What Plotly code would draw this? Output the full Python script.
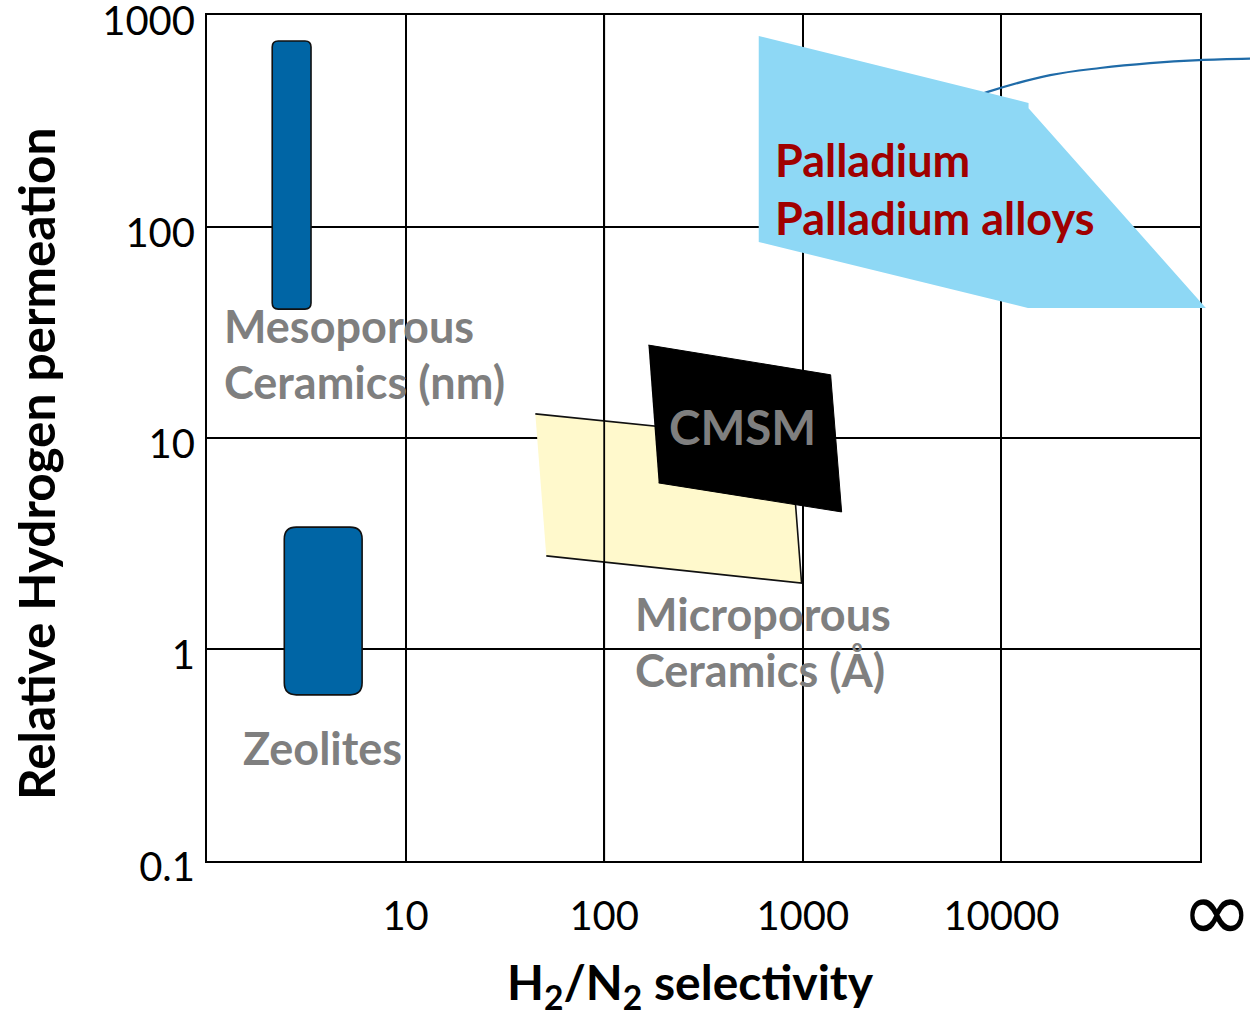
import plotly.graph_objects as go

# ---------------- axis ticks ----------------
X_TICK_VALS = [10, 100, 1000, 10000]
X_TICK_TEXT = ["10", "100", "1000", "10000"]
X_INF = 100000                      # position used for the "∞" column
Y_TICK_VALS = [0.1, 1, 10, 100, 1000]
Y_TICK_TEXT = ["0.1", "1", "10", "100", "1000"]

# ------- membrane regions: H2/N2 selectivity (x) vs relative H2 permeation (y) -------
meso_sel = [2.13, 3.34]
meso_perm = [40.7, 754]
zeo_sel = [2.45, 6.04]
zeo_perm = [0.61, 3.79]
micro_sel = [45.0, 868, 986, 51.1]
micro_perm = [13.0, 9.78, 2.06, 2.77]
cmsm_sel = [167, 1381, 1569, 188]
cmsm_perm = [27.5, 19.9, 4.47, 6.13]
pd_sel = [600, 13700, 13700, 107000, 13600, 600]
pd_perm = [796, 384, 363, 41.2, 41.2, 84.5]
link_sel = [6190, 8460, 17600, 31400, 56000, 98900, 178600]
link_perm = [388, 432, 520, 562, 593, 613, 623]

# ---------------- geometry / style ----------------
W, H = 1250, 1013
ML, MR, MT, MB = 207, 0, 15, 152
PLOT_W = W - ML - MR
PLOT_H = H - MT - MB
FRAME_W = 993                       # width of the framed chart area
X_SPAN = 5.0                        # decades 1 .. 1e5
X_DECADE_PX = FRAME_W / X_SPAN
Y_DECADE_PX = PLOT_H / 4.0
Y_PAD = 0.0004                      # keeps the edge tick labels inside the range

FONT = "Lato"
GRAY = "#7F7F7F"
DARKRED = "#A00000"
BLUE = "#0065A5"


def px_x(px):
    return (px - ML) / PLOT_W


def px_y(py):
    return (MT + PLOT_H - py) / PLOT_H


def rrect_path(xs, ys, r):
    fx = 10 ** (r / X_DECADE_PX)
    fy = 10 ** (r / Y_DECADE_PX)
    x0, x1 = xs
    y0, y1 = ys
    return (f"M{x0*fx},{y0} L{x1/fx},{y0} Q{x1},{y0} {x1},{y0*fy} "
            f"L{x1},{y1/fy} Q{x1},{y1} {x1/fx},{y1} L{x0*fx},{y1} "
            f"Q{x0},{y1} {x0},{y1/fy} L{x0},{y0*fy} Q{x0},{y0} {x0*fx},{y0} Z")


fig = go.Figure()

# main subplot (framed area)
fig.add_trace(go.Scatter(x=micro_sel, y=micro_perm, fill="toself", mode="lines",
                         fillcolor="#FFF9CC", line=dict(color="#111111", width=1.6),
                         hoverinfo="skip", showlegend=False))
fig.add_trace(go.Scatter(x=[X_TICK_VALS[1], X_TICK_VALS[1]], y=[Y_TICK_VALS[0], Y_TICK_VALS[-1]],
                         mode="lines", line=dict(color="black", width=1.8),
                         hoverinfo="skip", showlegend=False))
fig.add_trace(go.Scatter(x=cmsm_sel, y=cmsm_perm, fill="toself", mode="lines",
                         fillcolor="black", line=dict(color="black", width=1),
                         hoverinfo="skip", showlegend=False))

# overlay subplot extending to the right page edge
fig.add_trace(go.Scatter(x=link_sel, y=link_perm, mode="lines", line_shape="spline",
                         line=dict(color="#1F6BA8", width=2.2),
                         xaxis="x2", yaxis="y2", hoverinfo="skip", showlegend=False))
fig.add_trace(go.Scatter(x=pd_sel, y=pd_perm, fill="toself", mode="none",
                         fillcolor="#8ED8F5", xaxis="x2", yaxis="y2",
                         hoverinfo="skip", showlegend=False))

shapes = [
    dict(type="path", xref="x", yref="y", layer="above",
         path=rrect_path(meso_sel, meso_perm, 6),
         fillcolor=BLUE, line=dict(color="#111111", width=1.6)),
    dict(type="path", xref="x", yref="y", layer="above",
         path=rrect_path(zeo_sel, zeo_perm, 12),
         fillcolor=BLUE, line=dict(color="#111111", width=1.6)),
]

labels = [
    ("Palladium", 773, 160, DARKRED, 45),
    ("Palladium alloys", 773, 218, DARKRED, 45),
    ("Mesoporous", 222, 326, GRAY, 45),
    ("Ceramics (nm)", 222, 382, GRAY, 45),
    ("CMSM", 667, 426, GRAY, 47.5),
    ("Microporous", 633, 614, GRAY, 45),
    ("Ceramics (Å)", 633, 670, GRAY, 45),
    ("Zeolites", 241, 748, GRAY, 45),
]
annotations = []
for txt, x, y, col, sz in labels:
    annotations.append(dict(text=txt, x=px_x(x), y=px_y(y), xref="paper", yref="paper",
                            xanchor="left", yanchor="middle", showarrow=False,
                            font=dict(family=FONT, size=sz, color=col, weight="bold")))

annotations.append(dict(text="∞", x=px_x(1217), y=px_y(911), xref="paper", yref="paper",
                        xanchor="center", yanchor="middle", showarrow=False,
                        font=dict(family="DejaVu Sans", size=86, color="black")))
annotations.append(dict(text="Relative Hydrogen permeation", textangle=-90,
                        x=px_x(36), y=px_y(464), xref="paper", yref="paper",
                        xanchor="center", yanchor="middle", showarrow=False,
                        font=dict(family=FONT, size=49.5, color="black", weight="bold")))
annotations.append(dict(text="H<sub>2</sub>/N<sub>2</sub> selectivity",
                        x=px_x(690), y=px_y(985), xref="paper", yref="paper",
                        xanchor="center", yanchor="middle", showarrow=False,
                        font=dict(family=FONT, size=48, color="black", weight="bold")))

fig.update_layout(
    width=W, height=H,
    margin=dict(l=ML, r=MR, t=MT, b=MB, pad=0, autoexpand=False),
    paper_bgcolor="white", plot_bgcolor="rgba(0,0,0,0)",
    showlegend=False,
    xaxis=dict(type="log", range=[0, X_SPAN], domain=[0, FRAME_W / PLOT_W], anchor="y",
               tickvals=X_TICK_VALS, ticktext=X_TICK_TEXT, ticks="",
               tickfont=dict(family=FONT, size=40, color="black"),
               ticklabelstandoff=19, automargin=False,
               showgrid=True, gridcolor="black", gridwidth=1.8,
               showline=True, linecolor="black", linewidth=2, mirror=True,
               zeroline=False),
    yaxis=dict(type="log", range=[-1 - Y_PAD, 3 + Y_PAD], domain=[0, 1], anchor="x",
               tickvals=Y_TICK_VALS, ticktext=Y_TICK_TEXT, ticks="",
               tickfont=dict(family=FONT, size=40, color="black"),
               ticklabelstandoff=2, ticklabeloverflow="allow", ticklabelshift=6,
               automargin=False,
               showgrid=True, gridcolor="black", gridwidth=1.8,
               showline=True, linecolor="black", linewidth=2, mirror=True,
               zeroline=False),
    xaxis2=dict(type="log", range=[0, X_SPAN * PLOT_W / FRAME_W], domain=[0, 1],
                anchor="y2", visible=False),
    yaxis2=dict(type="log", range=[-1 - Y_PAD, 3 + Y_PAD], domain=[0, 1], anchor="x2",
                visible=False),
    shapes=shapes,
    annotations=annotations,
)

fig.write_html("out.html")
